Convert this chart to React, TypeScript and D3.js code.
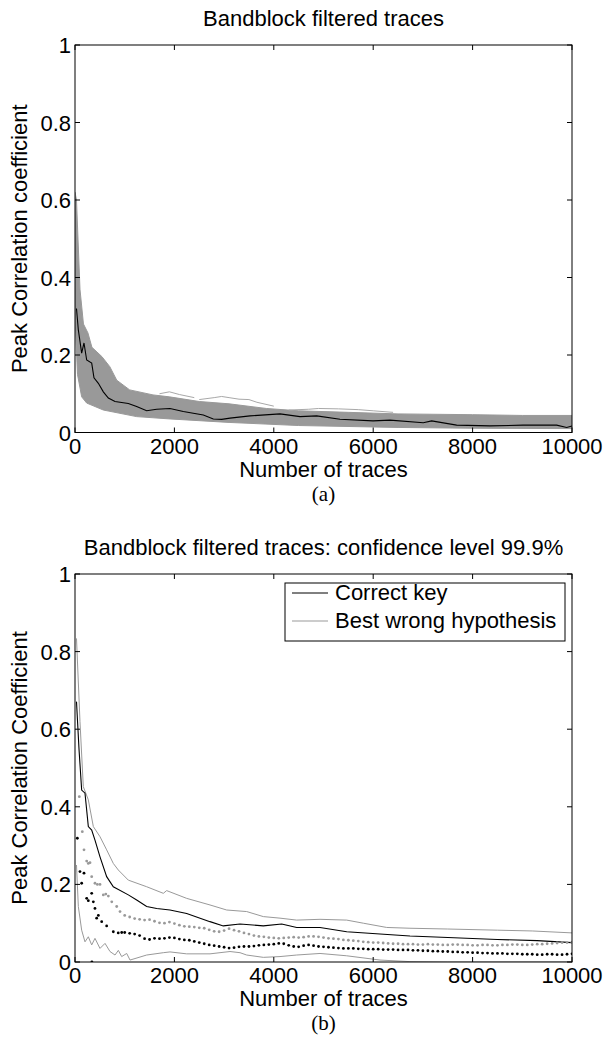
import React from 'react';
import * as d3 from 'd3';

const W = 607;
const H = 1048;

const xTicks = [0, 2000, 4000, 6000, 8000, 10000];
const yTicks = [0, 0.2, 0.4, 0.6, 0.8, 1];
const yTickLabels = ['0', '0.2', '0.4', '0.6', '0.8', '1'];

// ---- Panel (a): band of wrong-key traces (envelopes) ----
const bandUpper: [number, number][] = [
  [0, 0.62], [30, 0.6], [100, 0.37], [170, 0.28], [260, 0.257], [340, 0.22], [540, 0.196],
  [700, 0.17], [840, 0.135], [1100, 0.11], [1570, 0.097], [1900, 0.092], [2500, 0.08],
  [3100, 0.074], [3850, 0.062], [4500, 0.056], [5500, 0.052], [6500, 0.048], [8000, 0.046],
  [9000, 0.044], [10000, 0.044],
];
const bandLower: [number, number][] = [
  [0, 0.3], [50, 0.15], [134, 0.092], [235, 0.076], [570, 0.058], [1240, 0.041], [1911, 0.035],
  [3100, 0.026], [4500, 0.018], [6500, 0.013], [8000, 0.011], [10000, 0.01],
];
const outlierA: [number, number][] = [
  [2500, 0.085], [2800, 0.09], [2950, 0.093], [3100, 0.09], [3300, 0.086], [3500, 0.085], [3660, 0.078], [4000, 0.068],
];
const outlierB: [number, number][] = [
  [4300, 0.058], [4700, 0.06], [4900, 0.062], [5300, 0.061], [5700, 0.059], [6000, 0.056], [6400, 0.052],
];
const outlierC: [number, number][] = [
  [1700, 0.1], [1900, 0.105], [2100, 0.098], [2400, 0.09],
];
const correctTop: [number, number][] = [
  [30, 0.32], [67, 0.265], [134, 0.205], [181, 0.231], [235, 0.187], [336, 0.179], [382, 0.141],
  [470, 0.127], [570, 0.105], [671, 0.089], [805, 0.08], [1073, 0.075], [1240, 0.067],
  [1442, 0.056], [1643, 0.06], [1911, 0.062], [2179, 0.054], [2582, 0.045], [2783, 0.035],
  [2951, 0.034], [3119, 0.037], [3521, 0.043], [4125, 0.048], [4527, 0.041], [4863, 0.043],
  [5332, 0.034], [5996, 0.03], [6338, 0.032], [7008, 0.025], [7176, 0.03], [7679, 0.019],
  [8350, 0.017], [9014, 0.019], [9692, 0.019], [9893, 0.013], [10000, 0.017],
];

// ---- Panel (b) ----
const wrongUpper: [number, number][] = [
  [30, 0.834], [100, 0.62], [167, 0.452], [268, 0.418], [369, 0.349], [503, 0.323], [637, 0.289],
  [771, 0.254], [872, 0.237], [1073, 0.211], [1442, 0.194], [1777, 0.177], [1844, 0.184],
  [2247, 0.164], [2716, 0.147], [3052, 0.134], [3454, 0.13], [3789, 0.117], [4125, 0.113],
  [4460, 0.108], [4930, 0.11], [5467, 0.108], [5801, 0.1], [6272, 0.089], [6740, 0.087],
  [7500, 0.085], [8500, 0.082], [9200, 0.08], [10000, 0.075],
];
const wrongLower: [number, number][] = [
  [30, 0.25], [67, 0.143], [134, 0.082], [201, 0.052], [268, 0.065], [336, 0.044], [402, 0.061],
  [503, 0.035], [604, 0.048], [704, 0.027], [805, 0.018], [872, 0.03], [939, 0.014], [1040, 0.022],
  [1107, 0.005], [1442, 0.018], [1777, 0.024], [1911, 0.026], [2247, 0.021], [2716, 0.021],
  [3119, 0.027], [3320, 0.024], [3454, 0.018], [3789, 0.012], [4125, 0.014], [4460, 0.018],
  [4930, 0.022], [5467, 0.016], [6137, 0.005], [6740, 0.001], [7500, 0], [10000, 0],
];
const correctLine: [number, number][] = [
  [30, 0.671], [80, 0.55], [134, 0.443], [201, 0.435], [268, 0.349], [336, 0.34], [402, 0.314],
  [503, 0.271], [637, 0.22], [771, 0.194], [1073, 0.173], [1241, 0.16], [1442, 0.143],
  [1644, 0.138], [1911, 0.134], [2247, 0.125], [2716, 0.104], [2984, 0.093], [3320, 0.098],
  [3789, 0.093], [4159, 0.098], [4460, 0.089], [4930, 0.089], [5467, 0.078], [6137, 0.072],
  [6740, 0.067], [7500, 0.063], [8500, 0.058], [9300, 0.055], [10000, 0.05],
];
const grayDotsEarly: [number, number][] = [
  [87, 0.426], [147, 0.336], [181, 0.289], [235, 0.26], [268, 0.254], [302, 0.256], [336, 0.22],
  [402, 0.203], [450, 0.2], [503, 0.2], [570, 0.173], [620, 0.175], [671, 0.17], [740, 0.155],
  [839, 0.143], [906, 0.13],
];
// every 100 traces from 1000 to 10000
const grayDotsLate = [
  0.12, 0.116, 0.112, 0.11, 0.108, 0.109, 0.105, 0.101, 0.1, 0.103,
  0.099, 0.095, 0.092, 0.091, 0.09, 0.088, 0.087, 0.083, 0.079, 0.078,
  0.081, 0.086, 0.082, 0.079, 0.075, 0.072, 0.068, 0.066, 0.065, 0.063,
  0.062, 0.061, 0.062, 0.063, 0.064, 0.063, 0.064, 0.066, 0.066, 0.065,
  0.063, 0.061, 0.06, 0.059, 0.057, 0.056, 0.055, 0.054, 0.052, 0.051,
  0.05, 0.05, 0.049, 0.048, 0.047, 0.047, 0.046, 0.046, 0.046, 0.045,
  0.045, 0.046, 0.045, 0.045, 0.044, 0.044, 0.045, 0.045, 0.044, 0.044,
  0.043, 0.043, 0.044, 0.044, 0.043, 0.043, 0.044, 0.044, 0.045, 0.045,
  0.044, 0.044, 0.045, 0.046, 0.046, 0.047, 0.048, 0.049, 0.05, 0.05,
  0.051,
];
const blackDotsEarly: [number, number][] = [
  [47, 0.319], [100, 0.233], [134, 0.203], [181, 0.229], [235, 0.164], [268, 0.158], [336, 0.177],
  [340, 0.0], [369, 0.155], [402, 0.138], [436, 0.113], [470, 0.12], [537, 0.104], [637, 0.093],
  [771, 0.078], [870, 0.075], [940, 0.076],
];
const blackDotsLate = [
  0.076, 0.074, 0.072, 0.068, 0.06, 0.058, 0.061, 0.06, 0.061, 0.063,
  0.062, 0.059, 0.057, 0.056, 0.053, 0.05, 0.047, 0.044, 0.042, 0.04,
  0.038, 0.036, 0.037, 0.039, 0.04, 0.04, 0.041, 0.043, 0.044, 0.045,
  0.046, 0.048, 0.047, 0.043, 0.04, 0.039, 0.042, 0.044, 0.042, 0.04,
  0.039, 0.038, 0.037, 0.036, 0.035, 0.035, 0.035, 0.034, 0.034, 0.033,
  0.033, 0.033, 0.032, 0.032, 0.032, 0.031, 0.031, 0.031, 0.03, 0.03,
  0.029, 0.029, 0.028, 0.028, 0.027, 0.027, 0.026, 0.026, 0.025, 0.025,
  0.024, 0.024, 0.023, 0.023, 0.022, 0.022, 0.022, 0.021, 0.021, 0.021,
  0.02, 0.02, 0.02, 0.019, 0.019, 0.02, 0.02, 0.019, 0.019, 0.02,
  0.021,
];
const lateStart = 1000;
const lateStep = 100;

const legendLabels = ['Correct key', 'Best wrong hypothesis'];

const FONT = "'Liberation Sans', Arial, Helvetica, sans-serif";
const SERIF = "'Liberation Serif', 'DejaVu Serif', serif";
const GRAY = '#999999';
const FS = 22;

const L = 75, R = 572;
const x = d3.scaleLinear().domain([0, 10000]).range([L, R]);

type PanelProps = {
  top: number;
  bottom: number;
  title: string;
  ylabel: string;
  caption: string;
  children: (y: d3.ScaleLinear<number, number>) => React.ReactNode;
};

function Panel({ top, bottom, title, ylabel, caption, children }: PanelProps) {
  const y = d3.scaleLinear().domain([0, 1]).range([bottom, top]);
  const tl = 5;
  const cx = (L + R) / 2;
  const clipId = 'clip' + Math.round(top);
  return (
    <g>
      <defs>
        <clipPath id={clipId}>
          <rect x={L} y={top} width={R - L} height={bottom - top} />
        </clipPath>
      </defs>
      <g clipPath={`url(#${clipId})`}>{children(y)}</g>
      <rect x={L} y={top} width={R - L} height={bottom - top} fill="none" stroke="#000" strokeWidth={1} />
      {xTicks.map((t) => (
        <g key={'x' + t}>
          <line x1={x(t)} x2={x(t)} y1={bottom} y2={bottom - tl} stroke="#000" />
          <line x1={x(t)} x2={x(t)} y1={top} y2={top + tl} stroke="#000" />
          <text x={x(t)} y={bottom + 21} textAnchor="middle" fontFamily={FONT} fontSize={FS}>
            {t}
          </text>
        </g>
      ))}
      {yTicks.map((t, i) => (
        <g key={'y' + t}>
          <line x1={L} x2={L + tl} y1={y(t)} y2={y(t)} stroke="#000" />
          <line x1={R} x2={R - tl} y1={y(t)} y2={y(t)} stroke="#000" />
          <text x={L - 4} y={y(t) + 8} textAnchor="end" fontFamily={FONT} fontSize={FS}>
            {yTickLabels[i]}
          </text>
        </g>
      ))}
      <text x={cx} y={top - 19} textAnchor="middle" fontFamily={FONT} fontSize={FS}>
        {title}
      </text>
      <text x={cx} y={bottom + 44} textAnchor="middle" fontFamily={FONT} fontSize={FS}>
        Number of traces
      </text>
      <text
        transform={`translate(${27},${(top + bottom) / 2}) rotate(-90)`}
        textAnchor="middle"
        fontFamily={FONT}
        fontSize={FS}
      >
        {ylabel}
      </text>
      <text x={cx} y={bottom + 68} textAnchor="middle" fontFamily={SERIF} fontSize={21}>
        {caption}
      </text>
    </g>
  );
}

export default function App() {
  const lineGen = (y: d3.ScaleLinear<number, number>) =>
    d3.line<[number, number]>().x((d) => x(d[0])).y((d) => y(d[1]));

  const lateGray: [number, number][] = grayDotsLate.map((v, i) => [lateStart + i * lateStep, v]);
  const lateBlack: [number, number][] = blackDotsLate.map((v, i) => [lateStart + i * lateStep, v]);
  const grayDots = grayDotsEarly.concat(lateGray);
  const blackDots = blackDotsEarly.concat(lateBlack);

  return (
    <svg width={W} height={H} style={{ position: 'absolute', left: 0, top: 0, background: '#fff' }}>
      <rect width={W} height={H} fill="#fff" />
      <Panel
        top={45}
        bottom={432.5}
        title="Bandblock filtered traces"
        ylabel="Peak Correlation coefficient"
        caption="(a)"
      >
        {(y) => {
          const upperPath = lineGen(y)(bandUpper) || '';
          const lowerRev = [...bandLower].reverse();
          const areaPath =
            upperPath + 'L' + lowerRev.map((d) => `${x(d[0])},${y(d[1])}`).join('L') + 'Z';
          return (
            <g>
              <path d={areaPath} fill={GRAY} stroke={GRAY} strokeWidth={1} />
              {[outlierA, outlierB, outlierC].map((o, i) => (
                <path key={i} d={lineGen(y)(o) || ''} fill="none" stroke="#a8a8a8" strokeWidth={1} />
              ))}
              <path d={lineGen(y)(correctTop) || ''} fill="none" stroke="#000" strokeWidth={1.1} />
            </g>
          );
        }}
      </Panel>
      <Panel
        top={574}
        bottom={962}
        title="Bandblock filtered traces: confidence level 99.9%"
        ylabel="Peak Correlation Coefficient"
        caption="(b)"
      >
        {(y) => (
          <g>
            <path d={lineGen(y)(wrongUpper) || ''} fill="none" stroke={GRAY} strokeWidth={1} />
            <path d={lineGen(y)(wrongLower) || ''} fill="none" stroke={GRAY} strokeWidth={1} />
            <path d={lineGen(y)(correctLine) || ''} fill="none" stroke="#000" strokeWidth={1.1} />
            {grayDots.map((d, i) => (
              <circle key={'g' + i} cx={x(d[0])} cy={y(d[1])} r={1.4} fill={GRAY} />
            ))}
            {blackDots.map((d, i) => (
              <circle key={'b' + i} cx={x(d[0])} cy={y(d[1])} r={1.4} fill="#000" />
            ))}
          </g>
        )}
      </Panel>
      {/* legend */}
      <g>
        <rect x={285} y={583} width={280} height={58} fill="#fff" stroke="#000" strokeWidth={1} />
        {legendLabels.map((lab, i) => (
          <g key={lab}>
            <line
              x1={292}
              x2={328}
              y1={593 + i * 28}
              y2={593 + i * 28}
              stroke={i === 0 ? '#000' : GRAY}
              strokeWidth={1}
            />
            <text x={335} y={600 + i * 28} fontFamily={FONT} fontSize={FS}>
              {lab}
            </text>
          </g>
        ))}
      </g>
    </svg>
  );
}
